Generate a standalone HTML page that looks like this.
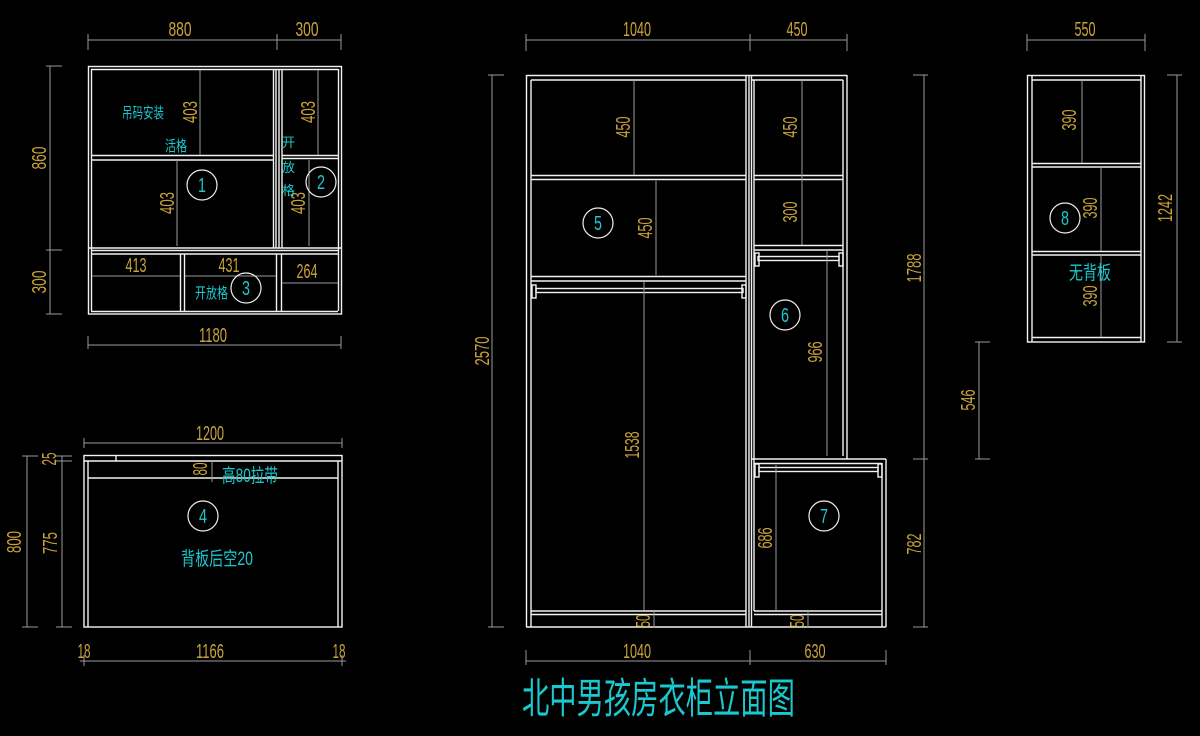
<!DOCTYPE html>
<html><head><meta charset="utf-8"><style>
html,body{margin:0;padding:0;background:#000;}
svg{display:block}
.w{stroke:#f2f2f2;stroke-width:1.4;fill:none}
.g{stroke:#9a9a9a;stroke-width:1;fill:none}
.d{fill:#c9a33a;font-family:"Liberation Sans Narrow","Liberation Sans",sans-serif;font-size:20px}
.c{fill:#19c9cf;font-family:"Liberation Sans","Noto Sans CJK SC",sans-serif;font-size:15px}
.n{fill:#19c9cf;font-family:"Liberation Sans",sans-serif;font-size:20px}
.o{stroke:#eee;stroke-width:1.2;fill:none}
</style></head><body>
<svg width="1200" height="736" viewBox="0 0 1200 736" xmlns="http://www.w3.org/2000/svg">
<rect width="1200" height="736" fill="#000"/>

<!-- ===== Cabinet 1 (top-left) ===== -->
<g class="w">
<rect x="88.5" y="66.5" width="253" height="247.5"/>
<line x1="91.5" y1="69" x2="91.5" y2="311"/>
<line x1="338.5" y1="69" x2="338.5" y2="311"/>
<line x1="91" y1="69.5" x2="338" y2="69.5"/>
<line x1="91" y1="311.5" x2="338" y2="311.5"/>
<line x1="273.5" y1="69" x2="273.5" y2="248"/>
<line x1="276" y1="69" x2="276" y2="248"/>
<line x1="279" y1="69" x2="279" y2="248"/>
<line x1="282" y1="69" x2="282" y2="248"/>
<line x1="91" y1="155.5" x2="273" y2="155.5"/>
<line x1="91" y1="160" x2="273" y2="160"/>
<line x1="282" y1="155.5" x2="338" y2="155.5"/>
<line x1="282" y1="158.5" x2="338" y2="158.5"/>
<line x1="88" y1="248" x2="341" y2="248"/>
<line x1="91" y1="250.5" x2="338" y2="250.5"/>
<line x1="91" y1="254" x2="338" y2="254"/>
<line x1="180.5" y1="254" x2="180.5" y2="311"/>
<line x1="184.5" y1="254" x2="184.5" y2="311"/>
<line x1="276.5" y1="254" x2="276.5" y2="311"/>
<line x1="281.5" y1="254" x2="281.5" y2="311"/>
</g>
<g class="g">
<line x1="200" y1="70" x2="200" y2="155"/>
<line x1="177" y1="160" x2="177" y2="246"/>
<line x1="318" y1="70" x2="318" y2="155"/>
<line x1="309" y1="160" x2="309" y2="246"/>
<line x1="92" y1="276" x2="180" y2="276"/>
<line x1="185" y1="276" x2="276" y2="276"/>
<line x1="282" y1="283" x2="338" y2="283"/>
<line x1="88" y1="40" x2="341" y2="40"/><line x1="88" y1="34" x2="88" y2="50"/><line x1="277" y1="34" x2="277" y2="50"/><line x1="341" y1="34" x2="341" y2="50"/>
<line x1="50" y1="66" x2="50" y2="314"/><line x1="46" y1="66" x2="62" y2="66"/><line x1="46" y1="250" x2="62" y2="250"/><line x1="46" y1="314" x2="62" y2="314"/>
<line x1="88" y1="345" x2="341" y2="345"/><line x1="88" y1="336" x2="88" y2="349"/><line x1="341" y1="336" x2="341" y2="349"/>
</g>
<text class="d" x="180" y="36" text-anchor="middle" textLength="23" lengthAdjust="spacingAndGlyphs">880</text>
<text class="d" x="307" y="36" text-anchor="middle" textLength="23" lengthAdjust="spacingAndGlyphs">300</text>
<text class="d" transform="translate(46,158) rotate(-90)" text-anchor="middle" textLength="23" lengthAdjust="spacingAndGlyphs">860</text>
<text class="d" transform="translate(46,282) rotate(-90)" text-anchor="middle" textLength="23" lengthAdjust="spacingAndGlyphs">300</text>
<text class="d" x="213" y="342" text-anchor="middle" textLength="28" lengthAdjust="spacingAndGlyphs">1180</text>
<text class="d" transform="translate(197,112) rotate(-90)" text-anchor="middle" textLength="22" lengthAdjust="spacingAndGlyphs">403</text>
<text class="d" transform="translate(174,203) rotate(-90)" text-anchor="middle" textLength="22" lengthAdjust="spacingAndGlyphs">403</text>
<text class="d" transform="translate(315,112) rotate(-90)" text-anchor="middle" textLength="22" lengthAdjust="spacingAndGlyphs">403</text>
<text class="d" transform="translate(305,203) rotate(-90)" text-anchor="middle" textLength="22" lengthAdjust="spacingAndGlyphs">403</text>
<text class="d" x="136" y="272" text-anchor="middle" textLength="21" lengthAdjust="spacingAndGlyphs">413</text>
<text class="d" x="229" y="272" text-anchor="middle" textLength="21" lengthAdjust="spacingAndGlyphs">431</text>
<text class="d" x="307" y="278" text-anchor="middle" textLength="21" lengthAdjust="spacingAndGlyphs">264</text>
<text class="c" x="122" y="118" textLength="42" lengthAdjust="spacingAndGlyphs">吊码安装</text>
<text class="c" x="165" y="151" textLength="22" lengthAdjust="spacingAndGlyphs">活格</text>
<text class="c" x="282" y="147" style="font-size:13px">开</text>
<text class="c" x="282" y="172" style="font-size:13px">放</text>
<text class="c" x="282" y="195" style="font-size:13px">格</text>
<text class="c" x="195" y="298" textLength="33" lengthAdjust="spacingAndGlyphs">开放格</text>
<circle class="o" cx="202" cy="185" r="15"/><text class="n" x="202" y="192" text-anchor="middle" textLength="8" lengthAdjust="spacingAndGlyphs">1</text>
<circle class="o" cx="321" cy="182" r="15"/><text class="n" x="321" y="189" text-anchor="middle" textLength="8" lengthAdjust="spacingAndGlyphs">2</text>
<circle class="o" cx="246" cy="288" r="15"/><text class="n" x="246" y="295" text-anchor="middle" textLength="8" lengthAdjust="spacingAndGlyphs">3</text>

<!-- ===== Desk ===== -->
<g class="w">
<rect x="84" y="455.5" width="258" height="171.5"/>
<line x1="84" y1="461" x2="342" y2="461"/>
<line x1="88" y1="461" x2="88" y2="627"/>
<line x1="338" y1="461" x2="338" y2="627"/>
<line x1="88" y1="478" x2="338" y2="478"/>
<line x1="116" y1="455" x2="116" y2="461"/>
</g>
<g class="g">
<line x1="212" y1="461" x2="212" y2="482"/>
<line x1="84" y1="443" x2="342" y2="443"/><line x1="84" y1="438" x2="84" y2="448"/><line x1="342" y1="438" x2="342" y2="448"/>
<line x1="27" y1="456" x2="27" y2="627"/><line x1="22" y1="456" x2="38" y2="456"/><line x1="22" y1="627" x2="38" y2="627"/>
<line x1="62" y1="456" x2="62" y2="627"/><line x1="56" y1="456" x2="72" y2="456"/><line x1="56" y1="461" x2="72" y2="461"/><line x1="56" y1="627" x2="72" y2="627"/>
<line x1="80" y1="661" x2="346" y2="661"/><line x1="84" y1="655" x2="84" y2="666"/><line x1="342" y1="655" x2="342" y2="666"/>
</g>
<text class="d" x="210" y="440" text-anchor="middle" textLength="28" lengthAdjust="spacingAndGlyphs">1200</text>
<text class="d" transform="translate(21,542) rotate(-90)" text-anchor="middle" textLength="22" lengthAdjust="spacingAndGlyphs">800</text>
<text class="d" transform="translate(57,543) rotate(-90)" text-anchor="middle" textLength="22" lengthAdjust="spacingAndGlyphs">775</text>
<text class="d" transform="translate(56,459) rotate(-90)" text-anchor="middle" textLength="13" lengthAdjust="spacingAndGlyphs">25</text>
<text class="d" transform="translate(207,469) rotate(-90)" text-anchor="middle" textLength="13" lengthAdjust="spacingAndGlyphs">80</text>
<text class="d" x="84" y="658" text-anchor="middle" textLength="13" lengthAdjust="spacingAndGlyphs">18</text>
<text class="d" x="210" y="658" text-anchor="middle" textLength="28" lengthAdjust="spacingAndGlyphs">1166</text>
<text class="d" x="339" y="658" text-anchor="middle" textLength="13" lengthAdjust="spacingAndGlyphs">18</text>
<text class="c" x="222" y="482" textLength="56" lengthAdjust="spacingAndGlyphs" style="font-size:19px">高80拉带</text>
<text class="c" x="181" y="565" textLength="72" lengthAdjust="spacingAndGlyphs" style="font-size:19px">背板后空20</text>
<circle class="o" cx="203" cy="516" r="15"/><text class="n" x="203" y="523" text-anchor="middle" textLength="8" lengthAdjust="spacingAndGlyphs">4</text>

<!-- ===== Wardrobe ===== -->
<g class="w">
<line x1="526.5" y1="75.5" x2="847" y2="75.5"/>
<line x1="526.5" y1="75" x2="526.5" y2="627"/>
<line x1="531" y1="80" x2="531" y2="627"/>
<line x1="531" y1="80" x2="746" y2="80"/>
<line x1="751" y1="80" x2="843" y2="80"/>
<line x1="746" y1="75" x2="746" y2="627"/>
<line x1="749" y1="75" x2="749" y2="627"/>
<line x1="751.5" y1="75" x2="751.5" y2="627"/>
<line x1="754" y1="80" x2="754" y2="611"/>
<line x1="843" y1="80" x2="843" y2="456"/>
<line x1="847" y1="75" x2="847" y2="459"/>
<line x1="531" y1="175.5" x2="746" y2="175.5"/>
<line x1="531" y1="179.5" x2="746" y2="179.5"/>
<line x1="754" y1="175.5" x2="843" y2="175.5"/>
<line x1="754" y1="179.5" x2="843" y2="179.5"/>
<line x1="531" y1="276.5" x2="746" y2="276.5"/>
<line x1="531" y1="281" x2="746" y2="281"/>
<line x1="754" y1="245.5" x2="843" y2="245.5"/>
<line x1="754" y1="250" x2="843" y2="250"/>
<rect x="536" y="288.5" width="207" height="4"/>
<rect x="532" y="285" width="4" height="13"/><rect x="742" y="285" width="4" height="13"/>
<rect x="758" y="256.5" width="81" height="4"/>
<rect x="755" y="253" width="4" height="13"/><rect x="839" y="253" width="4" height="13"/>
<line x1="751" y1="459" x2="886" y2="459"/>
<line x1="754" y1="463.5" x2="882" y2="463.5"/>
<line x1="882" y1="463" x2="882" y2="627"/>
<line x1="886" y1="459" x2="886" y2="627"/>
<rect x="759" y="467.5" width="119" height="4"/>
<rect x="755" y="464" width="4" height="13"/><rect x="878" y="464" width="4" height="13"/>
<line x1="531" y1="611" x2="746" y2="611"/>
<line x1="531" y1="614.5" x2="746" y2="614.5"/>
<line x1="754" y1="611" x2="882" y2="611"/>
<line x1="754" y1="614.5" x2="882" y2="614.5"/>
<line x1="526" y1="627" x2="886" y2="627"/>
</g>
<g class="g">
<line x1="634" y1="80" x2="634" y2="175"/>
<line x1="656" y1="181" x2="656" y2="275"/>
<line x1="644" y1="282" x2="644" y2="610"/>
<line x1="802" y1="80" x2="802" y2="245"/>
<line x1="827" y1="250" x2="827" y2="456"/>
<line x1="776" y1="465" x2="776" y2="610"/>
<line x1="654" y1="611" x2="654" y2="628"/><line x1="808" y1="611" x2="808" y2="628"/>
<line x1="526" y1="40" x2="847" y2="40"/><line x1="526" y1="34" x2="526" y2="51"/><line x1="750" y1="34" x2="750" y2="51"/><line x1="847" y1="34" x2="847" y2="51"/>
<line x1="492" y1="75" x2="492" y2="627"/><line x1="488" y1="75" x2="504" y2="75"/><line x1="488" y1="627" x2="504" y2="627"/>
<line x1="924" y1="75" x2="924" y2="627"/><line x1="913" y1="75" x2="928" y2="75"/><line x1="913" y1="459" x2="928" y2="459"/><line x1="913" y1="627" x2="928" y2="627"/>
<line x1="526" y1="661" x2="886" y2="661"/><line x1="526" y1="650" x2="526" y2="665"/><line x1="750" y1="650" x2="750" y2="665"/><line x1="886" y1="650" x2="886" y2="665"/>
</g>
<text class="d" x="637" y="36" text-anchor="middle" textLength="28" lengthAdjust="spacingAndGlyphs">1040</text>
<text class="d" x="797" y="36" text-anchor="middle" textLength="21" lengthAdjust="spacingAndGlyphs">450</text>
<text class="d" x="637" y="658" text-anchor="middle" textLength="28" lengthAdjust="spacingAndGlyphs">1040</text>
<text class="d" x="815" y="658" text-anchor="middle" textLength="21" lengthAdjust="spacingAndGlyphs">630</text>
<text class="d" transform="translate(489,351) rotate(-90)" text-anchor="middle" textLength="29" lengthAdjust="spacingAndGlyphs">2570</text>
<text class="d" transform="translate(921,268) rotate(-90)" text-anchor="middle" textLength="29" lengthAdjust="spacingAndGlyphs">1788</text>
<text class="d" transform="translate(921,544) rotate(-90)" text-anchor="middle" textLength="21" lengthAdjust="spacingAndGlyphs">782</text>
<text class="d" transform="translate(630,127) rotate(-90)" text-anchor="middle" textLength="21" lengthAdjust="spacingAndGlyphs">450</text>
<text class="d" transform="translate(797,127) rotate(-90)" text-anchor="middle" textLength="21" lengthAdjust="spacingAndGlyphs">450</text>
<text class="d" transform="translate(652,228) rotate(-90)" text-anchor="middle" textLength="21" lengthAdjust="spacingAndGlyphs">450</text>
<text class="d" transform="translate(797,212) rotate(-90)" text-anchor="middle" textLength="21" lengthAdjust="spacingAndGlyphs">300</text>
<text class="d" transform="translate(639,445) rotate(-90)" text-anchor="middle" textLength="27" lengthAdjust="spacingAndGlyphs">1538</text>
<text class="d" transform="translate(822,352) rotate(-90)" text-anchor="middle" textLength="21" lengthAdjust="spacingAndGlyphs">966</text>
<text class="d" transform="translate(772,538) rotate(-90)" text-anchor="middle" textLength="21" lengthAdjust="spacingAndGlyphs">686</text>
<text class="d" transform="translate(650,621) rotate(-90)" text-anchor="middle" textLength="13" lengthAdjust="spacingAndGlyphs">50</text>
<text class="d" transform="translate(804,621) rotate(-90)" text-anchor="middle" textLength="13" lengthAdjust="spacingAndGlyphs">50</text>
<circle class="o" cx="598" cy="223" r="15"/><text class="n" x="598" y="230" text-anchor="middle" textLength="8" lengthAdjust="spacingAndGlyphs">5</text>
<circle class="o" cx="785" cy="315" r="15"/><text class="n" x="785" y="322" text-anchor="middle" textLength="8" lengthAdjust="spacingAndGlyphs">6</text>
<circle class="o" cx="824" cy="516" r="15"/><text class="n" x="824" y="523" text-anchor="middle" textLength="8" lengthAdjust="spacingAndGlyphs">7</text>

<!-- ===== Right cabinet ===== -->
<g class="w">
<rect x="1027.5" y="75.5" width="117" height="266.5"/>
<line x1="1032" y1="76" x2="1032" y2="342"/>
<line x1="1141" y1="76" x2="1141" y2="342"/>
<line x1="1032" y1="80" x2="1141" y2="80"/>
<line x1="1032" y1="163.5" x2="1141" y2="163.5"/>
<line x1="1032" y1="167" x2="1141" y2="167"/>
<line x1="1032" y1="251.5" x2="1141" y2="251.5"/>
<line x1="1032" y1="255" x2="1141" y2="255"/>
<line x1="1032" y1="337.5" x2="1141" y2="337.5"/>
</g>
<g class="g">
<line x1="1082" y1="80" x2="1082" y2="163"/>
<line x1="1101" y1="167" x2="1101" y2="251"/>
<line x1="1101" y1="255" x2="1101" y2="337"/>
<line x1="1027" y1="40" x2="1145" y2="40"/><line x1="1027" y1="34" x2="1027" y2="51"/><line x1="1145" y1="34" x2="1145" y2="51"/>
<line x1="1177" y1="75" x2="1177" y2="342"/><line x1="1167" y1="75" x2="1182" y2="75"/><line x1="1167" y1="342" x2="1182" y2="342"/>
<line x1="979" y1="342" x2="979" y2="459"/><line x1="975" y1="342" x2="990" y2="342"/><line x1="975" y1="459" x2="990" y2="459"/>
</g>
<text class="d" x="1085" y="36" text-anchor="middle" textLength="21" lengthAdjust="spacingAndGlyphs">550</text>
<text class="d" transform="translate(1172,208) rotate(-90)" text-anchor="middle" textLength="28" lengthAdjust="spacingAndGlyphs">1242</text>
<text class="d" transform="translate(975,400) rotate(-90)" text-anchor="middle" textLength="21" lengthAdjust="spacingAndGlyphs">546</text>
<text class="d" transform="translate(1076,120) rotate(-90)" text-anchor="middle" textLength="21" lengthAdjust="spacingAndGlyphs">390</text>
<text class="d" transform="translate(1097,208) rotate(-90)" text-anchor="middle" textLength="21" lengthAdjust="spacingAndGlyphs">390</text>
<text class="d" transform="translate(1097,296) rotate(-90)" text-anchor="middle" textLength="21" lengthAdjust="spacingAndGlyphs">390</text>
<text class="c" x="1069" y="279" textLength="42" lengthAdjust="spacingAndGlyphs" style="font-size:19px">无背板</text>
<circle class="o" cx="1065" cy="218" r="15"/><text class="n" x="1065" y="225" text-anchor="middle" textLength="8" lengthAdjust="spacingAndGlyphs">8</text>

<!-- Title -->
<text class="c" transform="translate(522,713) scale(0.65,1)" style="font-size:42px">北中男孩房衣柜立面图</text>
</svg>
</body></html>
